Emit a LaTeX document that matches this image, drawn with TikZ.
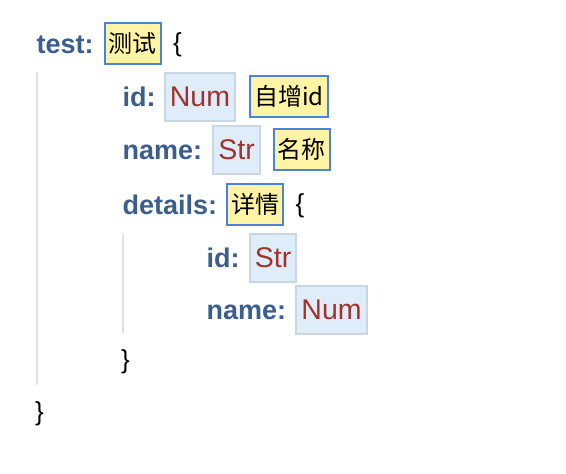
\documentclass[tikz,border=0pt]{standalone}
\usepackage{fontspec}
\setmainfont{Liberation Sans}
\newfontfamily\cjk{Noto Sans CJK SC}
\usetikzlibrary{positioning}
\definecolor{keyblue}{HTML}{3B5E8C}
\definecolor{typered}{HTML}{A2322B}
\definecolor{noteyellow}{HTML}{FFF3A5}
\definecolor{noteborder}{HTML}{4A84D6}
\definecolor{typefill}{HTML}{DEEDF9}
\definecolor{typeborder}{HTML}{C9D7E3}
\definecolor{guidegray}{HTML}{E1E1E1}

\begin{document}
\begin{tikzpicture}
  [x=1pt,y=-1pt,
    field/.style={anchor=west,inner sep=0pt,text=keyblue,font=\fontsize{27}{30}\selectfont\bfseries,text height=21pt,text depth=2pt},
    typebox/.style={fill=typefill,draw=typeborder,line width=2pt,text=typered,font=\fontsize{28.5}{32}\selectfont,inner xsep=5pt,inner ysep=0pt,text height=20pt,text depth=0pt,minimum height=48pt},
    note/.style={fill=noteyellow,draw=noteborder,line width=2pt,font=\fontsize{24}{28}\selectfont\cjk,inner xsep=4pt,inner ysep=0pt,text height=20pt,text depth=2pt,minimum height=41pt},
    bracket/.style={anchor=west,inner sep=0pt,font=\fontsize{26}{30}\selectfont,text height=19pt,text depth=4pt},
    guide/.style={draw=guidegray,line width=2pt},
  ]
  \useasboundingbox (0,0) rectangle (566,474);

  \coordinate (outer top) at (37,72);
  \coordinate (outer bottom) at (37,385);
  \coordinate (inner top) at (123,233);
  \coordinate (inner bottom) at (123,333);
  \draw[guide] (outer top) -- (outer bottom);
  \draw[guide] (inner top) -- (inner bottom);

  \node[field] (test) at (36.5,43.5) {test:};
  \node[note,right=10pt of test] (test note) {测试};
  \node[bracket,right=11pt of test note] (test open) {\{};

  \node[field] (id) at (122.5,96.5) {id:};
  \node[typebox,right=8pt of id] (id type) {Num};
  \node[note,right=13pt of id type] (id note) {自增id};

  \node[field] (name) at (122.5,149.5) {name:};
  \node[typebox,right=10pt of name] (name type) {Str};
  \node[note,right=12pt of name type] (name note) {名称};

  \node[field] (details) at (122.5,204.5) {details:};
  \node[note,right=9pt of details] (details note) {详情};
  \node[bracket,right=11pt of details note] (details open) {\{};

  \node[field] (sub id) at (206.5,257.5) {id:};
  \node[typebox,right=9pt of sub id] (sub id type) {Str};

  \node[field] (sub name) at (206.5,309.5) {name:};
  \node[typebox,right=9pt of sub name] (sub name type) {Num};

  \node[bracket] (details close) at (121,361) {\}};
  \node[bracket] (test close) at (35,413) {\}};
\end{tikzpicture}
\end{document}
